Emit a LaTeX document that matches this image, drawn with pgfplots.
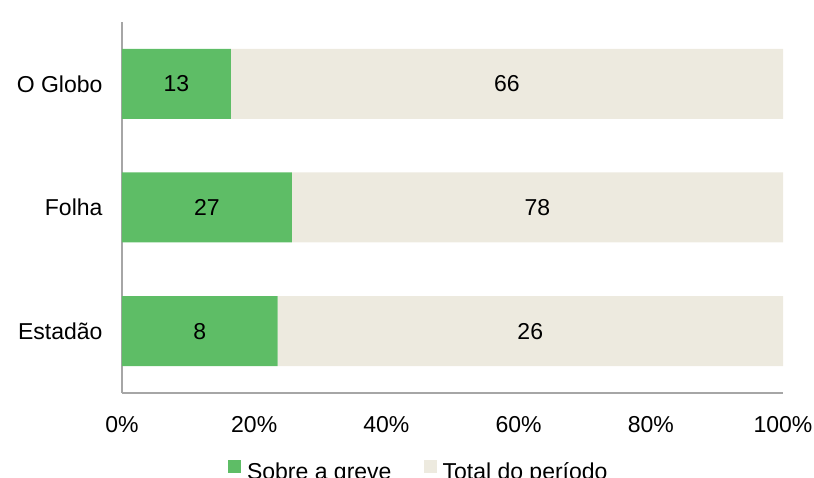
\documentclass[border=0pt]{standalone}
\usepackage{pgfplots}
\pgfplotsset{compat=1.18}
\usepackage{pgfplotstable}
\usepackage{fontspec}
\setmainfont{Liberation Sans}
\definecolor{verde}{HTML}{5EBD66}
\definecolor{bege}{HTML}{EDEADF}
\definecolor{eixo}{HTML}{A6A6A6}

% y: 0 Estadao, 1 Folha, 2 O Globo; pct = share of the row, n = count
\pgfplotstableread{
y pct n
0 23.529 8
1 25.714 27
2 16.456 13
}\sobre
\pgfplotstableread{
y pct n
0 76.471 26
1 74.286 78
2 83.544 66
}\total

\begin{document}
\begin{tikzpicture}
\begin{axis}[
  xbar stacked,
  scale only axis, width=661pt, height=371pt,
  xmin=0, xmax=100, ymin=-0.5, ymax=2.5,
  bar width=70pt,
  axis x line*=bottom, axis y line*=left,
  axis line style={eixo, line width=1.2pt},
  xtick={0,20,...,100},
  xticklabel={\pgfmathprintnumber{\tick}\%},
  ytick={0,1,2}, yticklabels={Estadão,Folha,O Globo},
  major tick length=0pt,
  /pgf/number format/assume math mode=true,
  font=\fontsize{23}{27}\selectfont,
  tick label style={font=\fontsize{23}{27}\selectfont},
  xticklabel style={yshift=-20pt},
  yticklabel style={xshift=-16pt},
  nodes near coords, point meta=explicit,
  every node near coord/.append style={anchor=center, black,
    font=\fontsize{23}{27}\selectfont},
  legend style={at={(0.449,-0.175)}, anchor=north, draw=none,
    font=\fontsize{23}{27}\selectfont,
    /tikz/every odd column/.append style={column sep=4pt},
    /tikz/every even column/.append style={column sep=30pt}},
  legend columns=2,
  legend image code/.code={\fill[#1] (0pt,-1pt) rectangle (13pt,12pt);},
]
\addplot[draw=none, fill=verde] table[x=pct, y=y, meta=n] {\sobre};
\addplot[draw=none, fill=bege] table[x=pct, y=y, meta=n] {\total};
\legend{Sobre a greve, Total do período}
\end{axis}
\pgfresetboundingbox
\useasboundingbox (-122pt,-85pt) rectangle (692pt,393pt);
\end{tikzpicture}
\end{document}
